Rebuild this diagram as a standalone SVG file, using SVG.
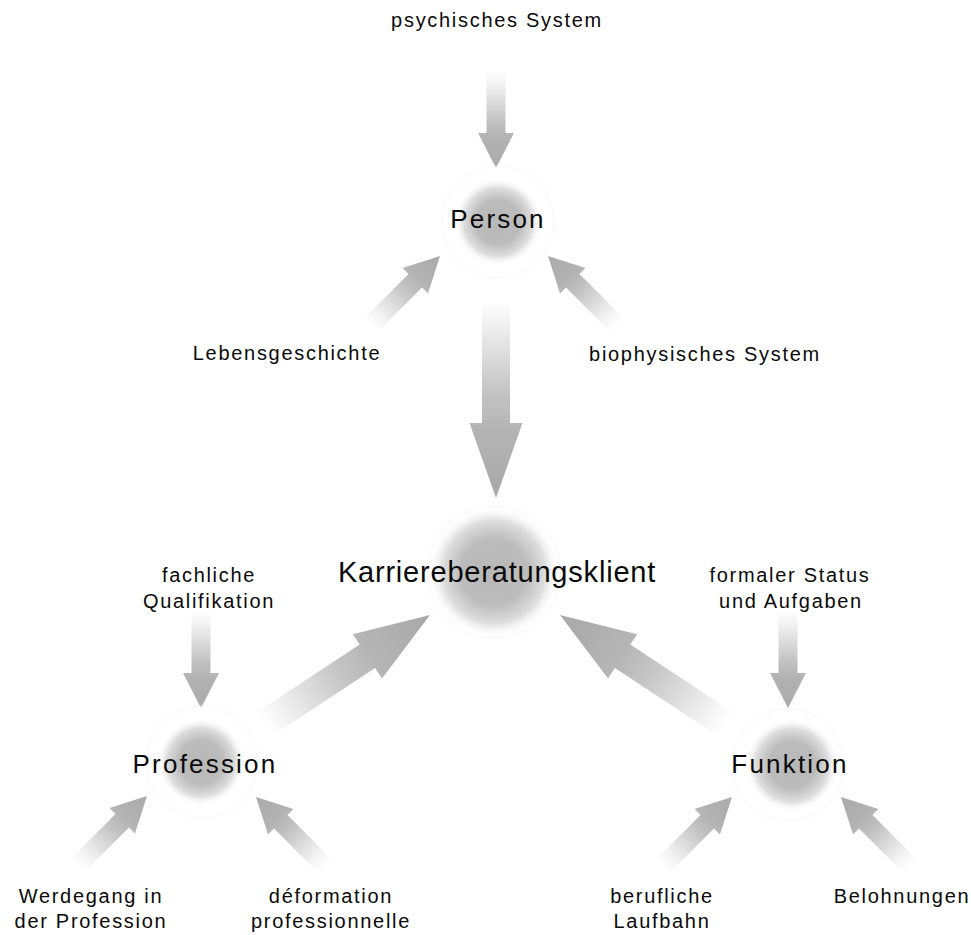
<svg xmlns="http://www.w3.org/2000/svg" width="971" height="935" viewBox="0 0 971 935">
<style>
text{font-family:"Liberation Sans",Arial,Helvetica,sans-serif;fill:#0a0a0a;text-anchor:middle}
.lbl{font-size:20px;letter-spacing:1.7px}
.ttl{font-size:26px;letter-spacing:2.2px}
.big{font-size:29px;letter-spacing:0.8px}
.halo{fill:none;stroke:#f7f7f7;stroke-width:1}
.sa{fill:url(#ag)}
.ba{fill:url(#bg)}
</style>
<defs>
<linearGradient id="ag" x1="0" y1="0" x2="1" y2="0">
<stop offset="0" stop-color="#ffffff"/>
<stop offset="0.15" stop-color="#f2f2f2"/>
<stop offset="0.55" stop-color="#bfbfbf"/>
<stop offset="0.7" stop-color="#b2b2b2"/>
<stop offset="1" stop-color="#aaaaaa"/>
</linearGradient>
<linearGradient id="bg" x1="0" y1="0" x2="1" y2="0">
<stop offset="0" stop-color="#ffffff"/>
<stop offset="0.1" stop-color="#f3f3f3"/>
<stop offset="0.45" stop-color="#c6c6c6"/>
<stop offset="0.65" stop-color="#b4b4b4"/>
<stop offset="1" stop-color="#a8a8a8"/>
</linearGradient>
<radialGradient id="blob">
<stop offset="0" stop-color="#b8b8b8"/>
<stop offset="0.5" stop-color="#bcbcbc"/>
<stop offset="0.78" stop-color="#dedede"/>
<stop offset="1" stop-color="#ffffff" stop-opacity="0"/>
</radialGradient>
<path id="small" d="M-98,-9.5 L-35,-9.5 L-35,-18 L0,0 L-35,18 L-35,9.5 L-98,9.5 Z"/>
<path id="large" d="M-198,-14 L-75,-14 L-75,-26.5 L0,0 L-75,26.5 L-75,14 L-198,14 Z"/>
</defs>
<rect width="971" height="935" fill="#ffffff"/>
<g id="connectors">
<use href="#small" class="sa" transform="translate(496,168) rotate(90)"/>
<use href="#large" class="ba" transform="translate(496,498) rotate(90)"/>
<use href="#small" class="sa" transform="translate(440,256) rotate(-45)"/>
<use href="#small" class="sa" transform="translate(548,256) rotate(-135)"/>
<use href="#large" class="ba" transform="translate(430,615) rotate(-33.4)"/>
<use href="#large" class="ba" transform="translate(560,615) rotate(-146.6)"/>
<use href="#small" class="sa" transform="translate(201,708) rotate(90)"/>
<use href="#small" class="sa" transform="translate(788,708) rotate(90)"/>
<use href="#small" class="sa" transform="translate(147,796) rotate(-45)"/>
<use href="#small" class="sa" transform="translate(256,797) rotate(-135)"/>
<use href="#small" class="sa" transform="translate(732,797) rotate(-45)"/>
<use href="#small" class="sa" transform="translate(841,797) rotate(-135)"/>
</g>
<g id="node-person">
<circle class="halo" cx="498" cy="222" r="56"/>
<circle cx="498" cy="222" r="44" fill="url(#blob)"/>
<text class="ttl" x="498" y="228">Person</text>
</g>
<g id="node-klient">
<circle class="halo" cx="494" cy="572" r="66"/>
<circle cx="494" cy="572" r="66" fill="url(#blob)"/>
<text class="big" x="497" y="582">Karriereberatungsklient</text>
</g>
<g id="node-profession">
<circle class="halo" cx="202" cy="762" r="56"/>
<circle cx="201" cy="762" r="44" fill="url(#blob)"/>
<text class="ttl" x="205" y="773">Profession</text>
</g>
<g id="node-funktion">
<circle class="halo" cx="788" cy="765" r="56"/>
<circle cx="792" cy="765" r="47" fill="url(#blob)"/>
<text class="ttl" x="790" y="773">Funktion</text>
</g>
<g id="labels">
<text class="lbl" x="497" y="27">psychisches System</text>
<text class="lbl" x="287" y="360">Lebensgeschichte</text>
<text class="lbl" x="705" y="361">biophysisches System</text>
<text class="lbl" x="209" y="582">fachliche</text>
<text class="lbl" x="209" y="608">Qualifikation</text>
<text class="lbl" x="790" y="582">formaler Status</text>
<text class="lbl" x="791" y="608">und Aufgaben</text>
<text class="lbl" x="91" y="903">Werdegang in</text>
<text class="lbl" x="91" y="928">der Profession</text>
<text class="lbl" x="331" y="903">déformation</text>
<text class="lbl" x="331" y="928">professionnelle</text>
<text class="lbl" x="662" y="903">berufliche</text>
<text class="lbl" x="662" y="928">Laufbahn</text>
<text class="lbl" x="902" y="903">Belohnungen</text>
</g>
</svg>
